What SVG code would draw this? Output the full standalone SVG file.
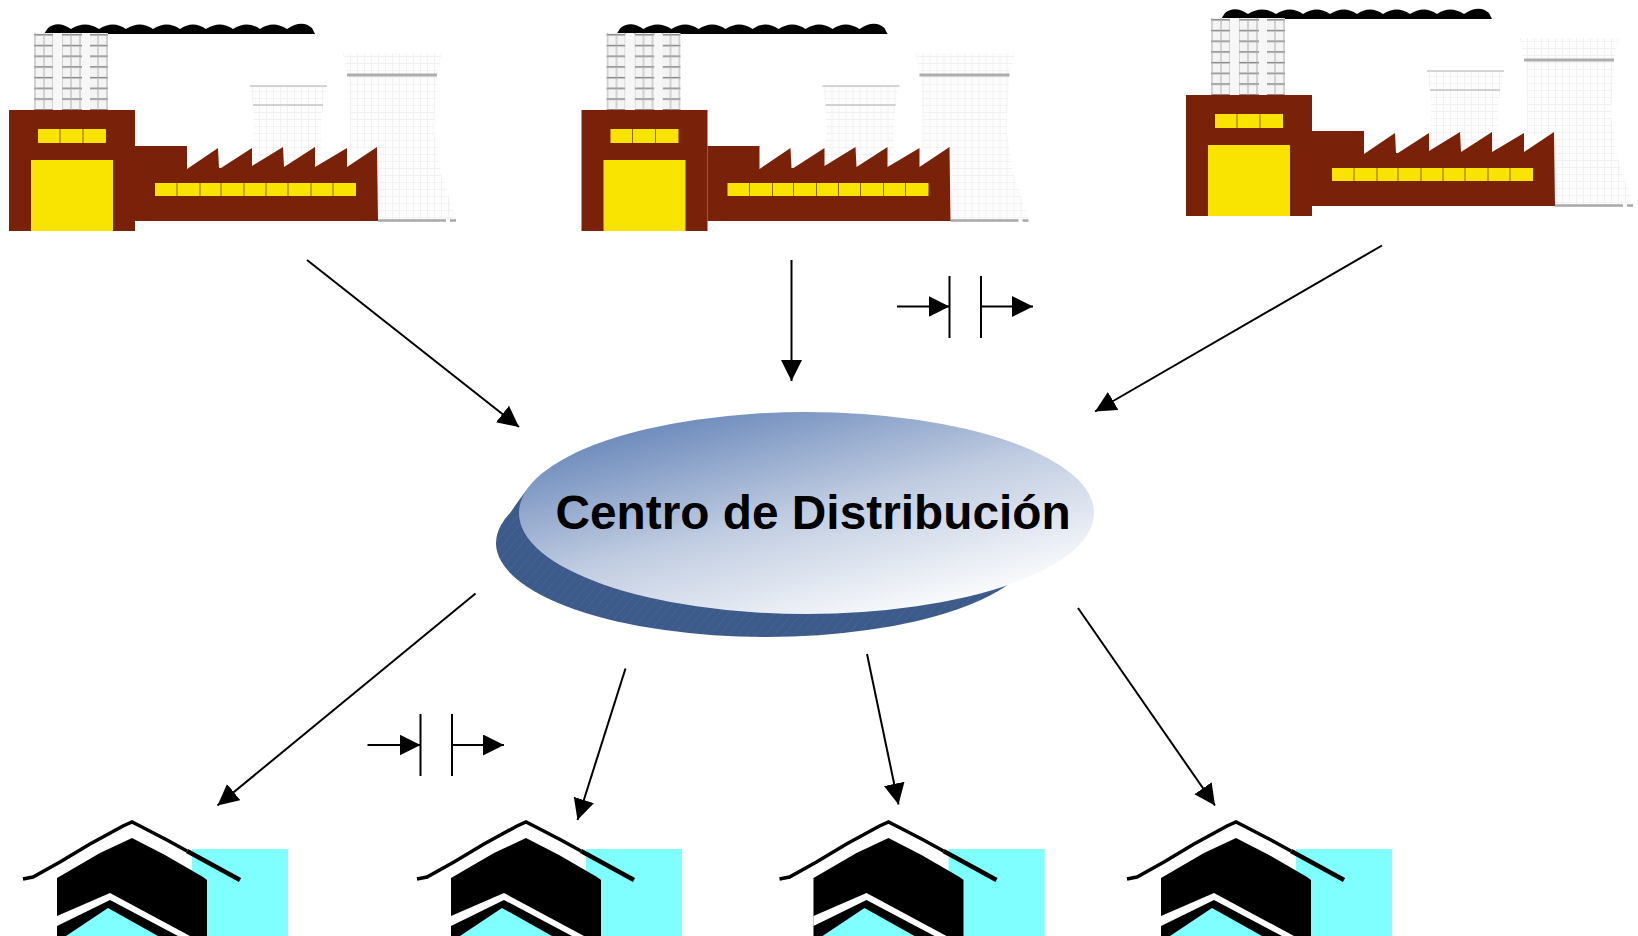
<svg xmlns="http://www.w3.org/2000/svg" width="1638" height="936" viewBox="0 0 1638 936">
<style>
.conn{stroke:#000;stroke-width:2;fill:none}
.arr{marker-end:url(#ah)}
.brick{fill:#7a2109}
.win{fill:#f8e400}
.sep{stroke:#8a6a00;stroke-width:1}
.label{font-family:"Liberation Sans",Arial,sans-serif;font-weight:bold;font-size:47.800px;fill:#000}
</style>
<defs>
<marker id="ah" markerUnits="userSpaceOnUse" markerWidth="22" markerHeight="22" refX="21" refY="10.500" orient="auto"><path d="M0 0L21 10.500L0 21Z" fill="#000"/></marker>
<linearGradient id="top" x1="0.1" y1="0.05" x2="0.8" y2="1"><stop offset="0" stop-color="#5f80b6"/><stop offset="0.5" stop-color="#c0cce1"/><stop offset="0.95" stop-color="#fbfcfd"/></linearGradient>
<pattern id="hatch" width="7" height="7" patternUnits="userSpaceOnUse" patternTransform="rotate(40)"><rect width="7" height="7" fill="#3c5a8a"/><path d="M0 0V7" stroke="#5a769f" stroke-width=".6"/></pattern>
<pattern id="chim" width="9" height="10.700" patternUnits="userSpaceOnUse" y="2"><rect width="9" height="10.700" fill="#f4f4f4"/><path d="M0 .7H9" stroke="#858585" stroke-width="1.500"/><path d="M8 0V10.700" stroke="#b0b0b0" stroke-width="1"/></pattern>
<pattern id="tow" width="7" height="7" patternUnits="userSpaceOnUse"><rect width="7" height="7" fill="#fdfdfd"/><path d="M0 .5H7M.5 0V7" stroke="#f1f1f1" stroke-width="1"/></pattern>
<g id="factory">
<path d="M44 34L48 28Q58 20 71 29Q85 20 99 29Q113 20 126 29Q140 20 153 29Q167 20 180 29Q193 20 206 29Q220 20 233 29Q247 20 260 29Q273 20 287 29Q302 19 312 28L315 34Z" fill="#000"/>
<path d="M34 33H53V110H34ZM62 33H82V110H62ZM90 33H108V110H90Z" fill="url(#chim)"/>
<path d="M53 33h9v77h-9zM82 33h8v77h-8z" fill="#f7f7f7"/>
<path d="M250 86H327L323 105L321 125L322 170L252 170L254 125L253 105Z" fill="url(#tow)"/>
<path d="M250 86H327" stroke="#d4d4d4" stroke-width="2"/>
<path d="M253 105H323" stroke="#c4c4c4" stroke-width="1.500"/>
<path d="M343 53H442L437 75L434 130L440 170L456 220H378V150H350V125L349 75H347Z" fill="url(#tow)"/>
<path d="M347 75H437" stroke="#adadad" stroke-width="3"/>
<path d="M378 220.500H446M450 220.500H456" stroke="#a8a8a8" stroke-width="2.500"/>
<path class="brick" d="M135 146H187V169L218 148L219 168H221L252 148V166L283 147L284 167L315 147V167L347 148V167L377 147L378 221H135Z"/>
<rect class="brick" x="9" y="110" width="126" height="121"/>
<rect class="win" x="38" y="129" width="68" height="14"/>
<path class="sep" d="M60 129v14M83 129v14"/>
<path class="win" d="M31 160H113V231H31Z"/>
<rect class="win" x="155" y="183" width="201" height="13"/>
<path class="sep" d="M177 183v13M200 183v13M221 183v13M244 183v13M266 183v13M288 183v13M311 183v13M333 183v13"/>
</g>
<g id="house">
<rect x="192" y="849" width="96" height="87" fill="#7fffff"/>
<path d="M57 878L100 853L132 838L165 855L203 877L207 880V936H57Z" fill="#000"/>
<path d="M23 879L33 877L60 862L90 844L123 826L132 822L140 826L167 840L187 851" fill="none" stroke="#000" stroke-width="3.500"/>
<path d="M187 851L240 880" fill="none" stroke="#000" stroke-width="4.500"/>
<path d="M57 916L110 893L190 936H178L110 900L57 926Z" fill="#fff"/>
<path d="M66 936L108 908L158 936Z" fill="#7fffff"/>
</g>
</defs>
<rect width="1638" height="936" fill="#fff"/>
<g id="factory-1"><use href="#factory"/></g>
<g id="factory-2"><use href="#factory" x="572.500"/></g>
<g id="factory-3"><use href="#factory" x="1177" y="-15"/></g>
<g id="centro">
<path d="M496 545Q499 525 529 487L600 520L800 600Z" fill="#3c5a8a"/>
<ellipse cx="766" cy="543" rx="270" ry="94" fill="url(#hatch)"/>
<ellipse cx="806.500" cy="513" rx="287.500" ry="101" fill="url(#top)"/>
<text class="label" x="555.500" y="529">Centro de Distribución</text>
</g>
<g id="house-1"><use href="#house"/></g>
<g id="house-2"><use href="#house" x="394"/></g>
<g id="house-3"><use href="#house" x="756.500"/></g>
<g id="house-4"><use href="#house" x="1104"/></g>
<g id="connectors">
<path class="conn arr" d="M307 260L519 427"/>
<path class="conn arr" d="M791.500 260V381"/>
<path class="conn arr" d="M1382 245.500L1095 411.500"/>
<path class="conn arr" d="M475.500 593.500L217.500 805.500"/>
<path class="conn arr" d="M625.500 668.500L577.500 820"/>
<path class="conn arr" d="M867 654L898.500 804.500"/>
<path class="conn arr" d="M1078 608L1215 805.500"/>
<path class="conn arr" d="M897 306.500H949.500"/>
<path class="conn" d="M949.500 276V338M981 276V338"/>
<path class="conn arr" d="M981 306.500H1033"/>
<path class="conn arr" d="M367.500 745H420.500"/>
<path class="conn" d="M420.500 714V776M452 714V776"/>
<path class="conn arr" d="M452 745H504"/>
</g>
</svg>
